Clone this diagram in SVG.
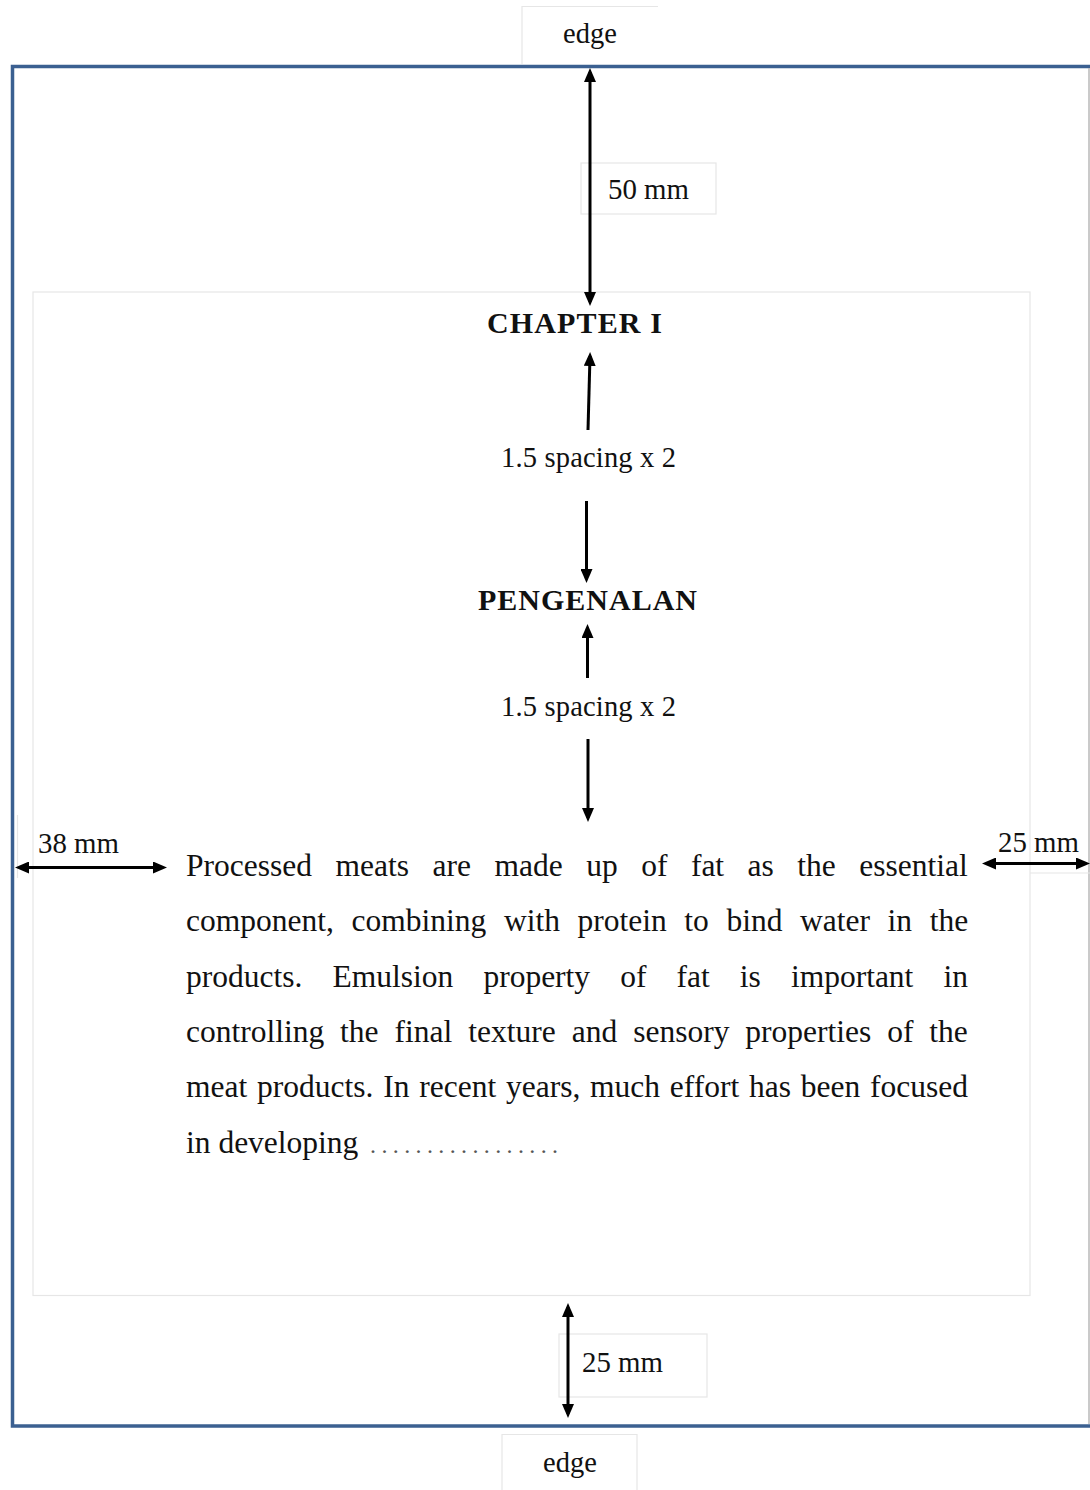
<svg xmlns="http://www.w3.org/2000/svg" width="1090" height="1490" viewBox="0 0 1090 1490">
<style>
.t{font-family:"Liberation Serif","Times New Roman",serif;fill:#111;}
.lbl{font-size:28.5px;}
.hd{font-size:30px;font-weight:bold;}
.body{font-size:31.5px;}
.box{fill:none;stroke:#e6e6e6;stroke-width:1.2;}
.arr{fill:none;stroke:#000;stroke-width:3;}
</style>
<defs>
<marker id="ah" viewBox="0 0 14 12" refX="10" refY="6" markerWidth="14" markerHeight="12" markerUnits="userSpaceOnUse" orient="auto-start-reverse">
<path d="M0,0 L14,6 L0,12 z" fill="#000"/>
</marker>
</defs>
<rect width="1090" height="1490" fill="#fff"/>

<g id="page-border">
<rect x="12.5" y="66.5" width="1090" height="1359.5" fill="none" stroke="#3b6091" stroke-width="3.5"/>
<line x1="1089" y1="68" x2="1089" y2="1424" stroke="#b8b8b8" stroke-width="1.5"/>
</g>

<g id="text-area">
<rect x="33" y="292" width="997" height="1003.5" class="box"/>
</g>

<g id="edge-top">
<path d="M522,64 L522,6.5 L658,6.5" class="box"/>
<text class="t lbl" x="590" y="43" text-anchor="middle">edge</text>
</g>

<g id="edge-bottom">
<path d="M502,1490 L502,1434.5 L637,1434.5 L637,1490" class="box"/>
<text class="t lbl" x="570" y="1472" text-anchor="middle">edge</text>
</g>

<g id="label-50mm">
<rect x="581" y="163" width="135" height="51" class="box"/>
<text class="t lbl" x="608" y="199" textLength="81" lengthAdjust="spacingAndGlyphs">50 mm</text>
</g>

<g id="chapter">
<text class="t hd" x="487" y="333" textLength="175" lengthAdjust="spacing">CHAPTER I</text>
</g>

<g id="spacing-1">
<text class="t lbl" x="501" y="467" textLength="175" lengthAdjust="spacing">1.5 spacing x 2</text>
</g>

<g id="pengenalan">
<text class="t hd" x="478" y="610" textLength="219" lengthAdjust="spacing">PENGENALAN</text>
</g>

<g id="spacing-2">
<text class="t lbl" x="501" y="716" textLength="175" lengthAdjust="spacing">1.5 spacing x 2</text>
</g>

<g id="label-38mm">
<line x1="17.5" y1="815" x2="17.5" y2="878" stroke="#e6e6e6" stroke-width="1.2"/>
<text class="t lbl" x="38" y="853" textLength="81" lengthAdjust="spacingAndGlyphs">38 mm</text>
</g>

<g id="label-25mm-right">
<line x1="1030" y1="873" x2="1090" y2="873" stroke="#e6e6e6" stroke-width="1.2"/>
<text class="t lbl" x="998" y="852" textLength="81" lengthAdjust="spacingAndGlyphs">25 mm</text>
</g>

<g id="label-25mm-bottom">
<rect x="559" y="1334" width="148" height="63" class="box"/>
<text class="t lbl" x="582" y="1372" textLength="81" lengthAdjust="spacingAndGlyphs">25 mm</text>
</g>

<g id="body">
<text class="t body" y="876"><tspan x="186">Processed</tspan><tspan x="335.5">meats</tspan><tspan x="432.5">are</tspan><tspan x="494.5">made</tspan><tspan x="586.2">up</tspan><tspan x="641.2">of</tspan><tspan x="690.9">fat</tspan><tspan x="747.6">as</tspan><tspan x="797.3">the</tspan><tspan x="859.3">essential</tspan></text>
<text class="t body" y="931"><tspan x="186">component,</tspan><tspan x="351.5">combining</tspan><tspan x="503.9">with</tspan><tspan x="577.5">protein</tspan><tspan x="684.3">to</tspan><tspan x="726.4">bind</tspan><tspan x="800">water</tspan><tspan x="887.6">in</tspan><tspan x="929.7">the</tspan></text>
<text class="t body" y="987"><tspan x="186">products.</tspan><tspan x="332.5">Emulsion</tspan><tspan x="483.4">property</tspan><tspan x="620.2">of</tspan><tspan x="676.5">fat</tspan><tspan x="739.8">is</tspan><tspan x="790.9">important</tspan><tspan x="943.5">in</tspan></text>
<text class="t body" y="1042"><tspan x="186">controlling</tspan><tspan x="340">the</tspan><tspan x="394.5">final</tspan><tspan x="468.2">texture</tspan><tspan x="571.7">and</tspan><tspan x="633.2">sensory</tspan><tspan x="745.2">properties</tspan><tspan x="887.2">of</tspan><tspan x="929.2">the</tspan></text>
<text class="t body" x="186" y="1097" textLength="782" lengthAdjust="spacing" word-spacing="1.8">meat products. In recent years, much effort has been focused</text>
<text class="t body" x="186" y="1153">in developing <tspan x="370" font-size="24" fill="#555" textLength="188" lengthAdjust="spacing">.................</tspan></text>
</g>

<g id="connectors">
<line class="arr" x1="590" y1="72" x2="590" y2="302" marker-start="url(#ah)" marker-end="url(#ah)"/>
<line class="arr" x1="588" y1="430" x2="590" y2="356" marker-end="url(#ah)"/>
<line class="arr" x1="586.5" y1="501" x2="586.5" y2="579" marker-end="url(#ah)"/>
<line class="arr" x1="587.5" y1="678" x2="587.5" y2="628" marker-end="url(#ah)"/>
<line class="arr" x1="588" y1="739" x2="588" y2="818" marker-end="url(#ah)"/>
<line class="arr" x1="19" y1="867.5" x2="163" y2="867.5" marker-start="url(#ah)" marker-end="url(#ah)"/>
<line class="arr" x1="986" y1="863.5" x2="1086" y2="863.5" marker-start="url(#ah)" marker-end="url(#ah)"/>
<line class="arr" x1="568" y1="1307" x2="568" y2="1414" marker-start="url(#ah)" marker-end="url(#ah)"/>
</g>
</svg>
